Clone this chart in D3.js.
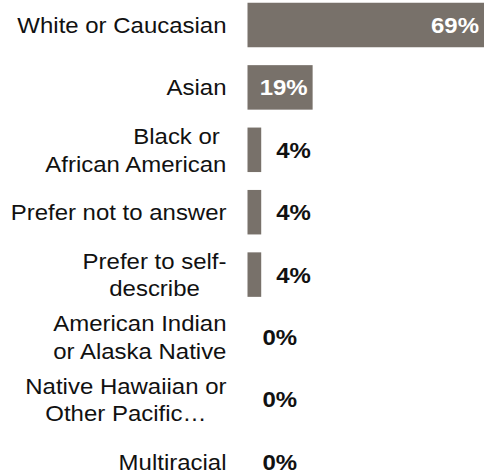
<!DOCTYPE html>
<html>
<head>
<meta charset="utf-8">
<script src="https://cdn.jsdelivr.net/npm/d3@7"></script>
<style>
  html, body { margin: 0; padding: 0; background: #ffffff; }
  svg { display: block; }
  text { font-family: "Liberation Sans", Arial, sans-serif; }
</style>
</head>
<body>
<svg id="chart" width="487" height="476"></svg>
<script>
// Respondent race / ethnicity breakdown
const categories = [
  "White or Caucasian",
  "Asian",
  "Black or African American",
  "Prefer not to answer",
  "Prefer to self-describe",
  "American Indian or Alaska Native",
  "Native Hawaiian or Other Pacific Islander",
  "Multiracial"
];
const labelLines = [
  ["White or Caucasian"],
  ["Asian"],
  ["Black or ", "African American"],
  ["Prefer not to answer"],
  ["Prefer to self-", "describe"],
  ["American Indian", "or Alaska Native"],
  ["Native Hawaiian or", "Other Pacific\u2026"],
  ["Multiracial"]
];
const values = [69, 19, 4, 4, 4, 0, 0, 0];

const W = 487, H = 476;
const barColor = "#78716a";
const labelRight = 226.5;   // right edge of category labels
const barLeft = 247.5;
const barH = 44.5;
const fontSize = 22;
const stretch = 1.09;       // slightly wide lettering
const lineGap = 27.5;

const svg = d3.select("#chart");

const x = d3.scaleLinear().domain([0, 69]).range([barLeft, 484]);
const y = d3.scalePoint().domain(categories).range([25, 461.8]);

function place(t, px, py) {
  t.attr("x", 0).attr("y", 0)
   .attr("transform", `translate(${px},${py}) scale(${stretch},1)`);
}

const rows = svg.selectAll("g.row")
  .data(categories.map((c, i) => ({ c, i, v: values[i], lines: labelLines[i] })))
  .join("g")
  .attr("class", "row");

// bars
rows.append("rect")
  .attr("x", x(0))
  .attr("y", d => y(d.c) - barH / 2)
  .attr("width", d => x(d.v) - x(0))
  .attr("height", barH)
  .attr("fill", barColor);

// category labels: multi-line labels are centred within their block,
// block right-aligned; a trailing space keeps a line flush right
rows.each(function(d) {
  const g = d3.select(this);
  const cy = y(d.c) + 8;
  const n = d.lines.length;
  const texts = d.lines.map(line =>
    g.append("text")
      .attr("xml:space", "preserve")
      .attr("font-size", fontSize)
      .attr("fill", "#111")
      .text(line));
  const widths = texts.map(t => t.node().getComputedTextLength() * stretch);
  const blockW = d3.max(widths);
  texts.forEach((t, k) => {
    const ly = cy + (k - (n - 1) / 2) * lineGap;
    if (n === 1 || d.lines[k].endsWith(" ")) {
      t.attr("text-anchor", "end");
      place(t, labelRight, ly);
    } else {
      t.attr("text-anchor", "middle");
      place(t, labelRight - blockW / 2, ly);
    }
  });
});

// value labels: inside the bar when wide enough, else just past its end
rows.append("text")
  .attr("font-size", fontSize)
  .attr("font-weight", "bold")
  .attr("text-anchor", d => d.v >= 10 ? "end" : "start")
  .attr("fill", d => d.v >= 10 ? "#ffffff" : "#111")
  .text(d => d.v + "%")
  .each(function(d) {
    place(d3.select(this), d.v >= 10 ? x(d.v) - 5 : x(d.v) + 15, y(d.c) + 8);
  });
</script>
</body>
</html>
